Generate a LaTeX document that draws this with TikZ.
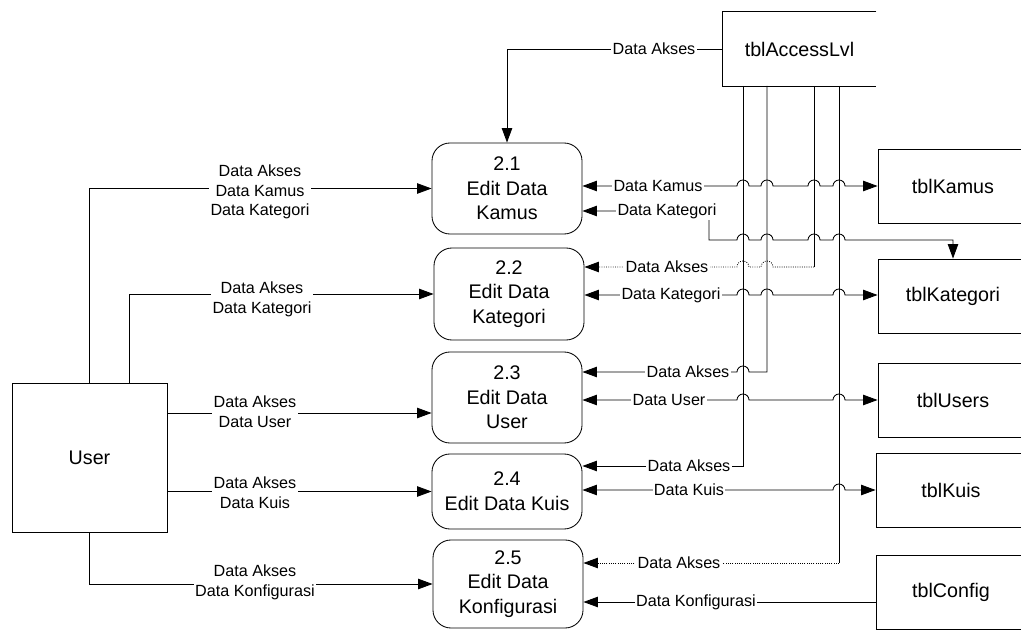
\documentclass[tikz,border=0pt]{standalone}
\usepackage{fontspec}
\setmainfont{Liberation Sans}
\usetikzlibrary{arrows.meta}

\tikzset{
	proc/.style={draw, line width=0.6pt, rounded corners=0.45cm, minimum width=3.75cm, align=center, font=\fontsize{14}{17.5}\selectfont},
	tbl/.style={draw, line width=0.6pt, minimum width=3.75cm, minimum height=1.85cm, font=\fontsize{14}{17}\selectfont},
	lbl/.style={fill=white, inner sep=1pt, align=center, font=\fontsize{11.5}{14}\selectfont},
	flow/.style={-{Triangle[length=3.6mm,width=2.6mm]}, line width=0.6pt},
	flowboth/.style={{Triangle[length=3.6mm,width=2.6mm]}-{Triangle[length=3.6mm,width=2.6mm]}, line width=0.6pt},
	vline/.style={line width=0.6pt},
}

\begin{document}
\begin{tikzpicture}[x=0.025cm, y=-0.025cm]
	\useasboundingbox (0,0) rectangle (1021,630);
	\clip (0,0) rectangle (1021,630);
	
	\node[tbl, minimum width=3.875cm, minimum height=3.725cm] (user) at (89.5,457.5) {User};
	
	\node[proc, minimum height=2.275cm] (p21) at (507,188.5) {2.1\\Edit Data\\Kamus};
	\node[proc, minimum height=2.3cm] (p22) at (509,294) {2.2\\Edit Data\\Kategori};
	\node[proc, minimum height=2.275cm] (p23) at (507,397.5) {2.3\\Edit Data\\User};
	\node[proc, minimum height=1.875cm] (p24) at (507,491.5) {2.4\\Edit Data Kuis};
	\node[proc, minimum height=2.2cm] (p25) at (508,584) {2.5\\Edit Data\\Konfigurasi};
	
	\node[minimum width=3.825cm, minimum height=1.85cm, font=\fontsize{14}{17}\selectfont] (acc) at (799.5,49) {tblAccessLvl};
	\draw[vline] (acc.north east) -- (acc.north west) -- (acc.south west) -- (acc.south east);
	\node[tbl] (tk) at (953,186) {tblKamus};
	\node[tbl] (tkat) at (953,296) {tblKategori};
	\node[tbl] (tus) at (953,400.5) {tblUsers};
	\node[tbl] (tku) at (951,490) {tblKuis};
	\node[tbl] (tcf) at (951,592) {tblConfig};
	
	\coordinate (v1) at (743,86);
	\coordinate (v2) at (767,86);
	\coordinate (v3) at (814,86);
	\coordinate (v4) at (839,86);
	
	\draw[flow] (user.north) |- (p21.west);
	\draw[flow] ([xshift=1cm]user.north) |- (p22.west);
	\draw[flow] (user.east |- 0,413) -- (p23.west |- 0,413);
	\draw[flow] (user.east |- p24.west) -- (p24.west);
	\draw[flow] (user.south) |- (p25.west);
	
	\draw[flow] (acc.west) -| (p21.north);
	
	\draw[flowboth] (p21.east |- tk.west) \foreach \vx in {743,767,814,839} {-- (\vx-6,186) arc[start angle=180, end angle=0, radius=0.15cm]} -- (tk.west);
	\draw[flowboth] (p21.east |- 0,211) -- (709,211) -- (709,240) \foreach \vx in {743,767,814,839} {-- (\vx-6,240) arc[start angle=180, end angle=0, radius=0.15cm]} -| (tkat.north);
	\draw[vline] (v3) -- (v3 |- 0,267);
	\draw[flow, densely dotted] (v3 |- 0,267) \foreach \vx in {767,743} {-- (\vx+6,267) arc[start angle=0, end angle=180, radius=0.15cm]} -- (p22.east |- 0,267);
	\draw[flowboth] (p22.east |- 0,295) \foreach \vx in {743,767,839} {-- (\vx-6,295) arc[start angle=180, end angle=0, radius=0.15cm]} -- (tkat.west |- 0,295);
	\draw[flow] (v2) -- (v2 |- 0,372) -- (749,372) arc[start angle=0, end angle=180, radius=0.15cm] -- (p23.east |- 0,372);
	\draw[flowboth] (p23.east |- 0,400) \foreach \vx in {743,839} {-- (\vx-6,400) arc[start angle=180, end angle=0, radius=0.15cm]} -- (tus.west |- 0,400);
	\draw[flow] (v1) |- (p24.east |- 0,466);
	\draw[flowboth] (p24.east |- tku.west) -- (833,490) arc[start angle=180, end angle=0, radius=0.15cm] -- (tku.west);
	\draw[vline] (v4) -- (v4 |- 0,563);
	\draw[flow, densely dotted] (v4 |- 0,563) -- (p25.east |- 0,563);
	\draw[flow] (tcf.west |- 0,602) -- (p25.east |- 0,602);
	
	\node[lbl] (l21) at (260,192) {Data Akses\\Data Kamus\\Data Kategori};
	\node[lbl] (l22) at (262,299) {Data Akses\\Data Kategori};
	\node[lbl] (l23) at (255,412) {Data Akses\\Data User};
	\node[lbl] (l24) at (255,493) {Data Akses\\Data Kuis};
	\node[lbl] (l25) at (255,582) {Data Akses\\Data Konfigurasi};
	
	\node[lbl] (la) at (654,49) {Data Akses};
	\node[lbl] (lk1) at (658,186) {Data Kamus};
	\node[lbl] (lk2) at (667,211) {Data Kategori};
	\node[lbl] (la2) at (667,267) {Data Akses};
	\node[lbl] (lk3) at (671,295) {Data Kategori};
	\node[lbl] (la3) at (688,372) {Data Akses};
	\node[lbl] (lu) at (669,400) {Data User};
	\node[lbl] (la4) at (689,466) {Data Akses};
	\node[lbl] (lq) at (689,490) {Data Kuis};
	\node[lbl] (la5) at (679,563) {Data Akses};
	\node[lbl] (lc) at (696,602) {Data Konfigurasi};
\end{tikzpicture}
\end{document}
